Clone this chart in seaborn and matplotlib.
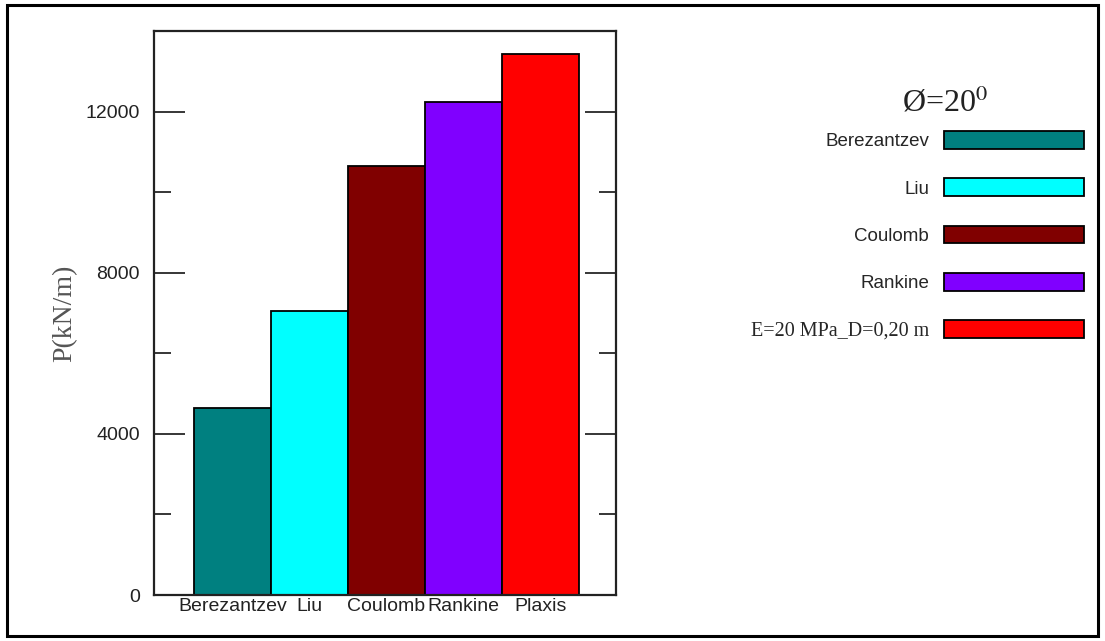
import matplotlib
matplotlib.use("Agg")
import matplotlib.pyplot as plt
from matplotlib.patches import Patch, Rectangle
import seaborn as sns

# Earth pressure results for phi = 20 degrees
methods = ["Berezantzev", "Liu", "Coulomb", "Rankine", "Plaxis"]
pressure = [4640, 7040, 10660, 12250, 13440]
legend_labels = ["Berezantzev", "Liu", "Coulomb", "Rankine", "E=20 MPa_D=0,20 m"]
colors = ["#008080", "#00FFFF", "#800000", "#8000FF", "#FF0000"]
y_ticks = [0, 4000, 8000, 12000]

sns.set_style("white")
plt.rcParams["font.family"] = ["Liberation Sans", "DejaVu Sans"]
plt.rcParams["mathtext.fontset"] = "stix"

fig = plt.figure(figsize=(11.05, 6.41), dpi=100)
ax = fig.add_axes([154 / 1105, 1 - 595 / 641, 462 / 1105, 564 / 641])

sns.barplot(x=methods, y=pressure, hue=methods, palette=colors, width=1.0,
            saturation=1, edgecolor="black", linewidth=1.3, legend=False, ax=ax)

ax.set_xlim(-1.02, 4.98)
ax.set_ylim(0, 14000)
ax.set_yticks(y_ticks)
ax.set_yticks(range(2000, 14000, 4000), minor=True)
ax.tick_params(axis="y", which="major", direction="in", length=22, width=1.3,
               right=True, left=True, labelsize=14, labelcolor="#222222", pad=10)
ax.tick_params(axis="y", which="minor", direction="in", length=12, width=1.3,
               right=True, left=True)
ax.tick_params(axis="x", length=0, labelsize=14, labelcolor="#222222", pad=2)
ax.set_xlabel("")
ax.set_ylabel("P(kN/m)", family="Liberation Serif", fontsize=20, color="#555555")
ax.yaxis.set_label_coords(-0.165, 0.5)
for side in ["left", "right", "top", "bottom"]:
    ax.spines[side].set_visible(True)
    ax.spines[side].set_color("#222222")
    ax.spines[side].set_linewidth(1.6)

handles = [Patch(facecolor=c, edgecolor="black", linewidth=1.3) for c in colors]
fs = 13.5
fs_px = fs * 100 / 72
leg = fig.legend(handles, legend_labels, loc="upper right",
                 bbox_to_anchor=(1084 / 1105, 1 - 131 / 641),
                 frameon=False, markerfirst=False, fontsize=fs,
                 handlelength=140 / fs_px, handleheight=20 / fs_px,
                 handletextpad=15 / fs_px, labelspacing=1.5, borderpad=0, borderaxespad=0)
leg.get_texts()[-1].set_family("Liberation Serif")
leg.get_texts()[-1].set_fontsize(14.5)

fig.text(945 / 1105, 1 - 103 / 641, r"Ø=20$^{0}$", family="Liberation Serif",
         fontsize=23, ha="center", va="center", color="#222222")

# outer frame around the whole figure
fig.patches.append(Rectangle((7 / 1105, 5 / 641), 1091 / 1105, 631 / 641,
                             transform=fig.transFigure, fill=False,
                             edgecolor="black", linewidth=2.2))

fig.savefig("out.png", dpi=100)
